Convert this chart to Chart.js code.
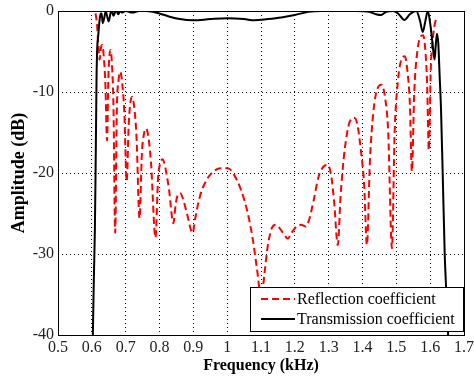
<!DOCTYPE html>
<html><head><meta charset="utf-8">
<script src="https://cdn.jsdelivr.net/npm/chart.js@4/dist/chart.umd.min.js"></script>
<style>html,body{margin:0;padding:0;background:#fff;}#wrap{width:474px;height:377px;}</style>
</head><body><div id="wrap"><canvas id="c" width="474" height="377"></canvas></div>
<script>
const reflFreq = [0.611,0.615,0.619,0.623,0.627,0.631,0.635,0.640,0.645,0.649,0.655,0.660,0.664,0.669,0.674,0.679,0.684,0.690,0.696,0.703,0.709,0.714,0.719,0.725,0.732,0.741,0.748,0.754,0.760,0.767,0.775,0.788,0.796,0.802,0.809,0.817,0.828,0.841,0.848,0.854,0.861,0.868,0.880,0.898,0.906,0.920,0.940,0.960,0.980,1.002,1.020,1.040,1.060,1.075,1.088,1.101,1.110,1.120,1.132,1.143,1.155,1.168,1.179,1.190,1.205,1.219,1.232,1.242,1.255,1.270,1.285,1.298,1.308,1.316,1.327,1.335,1.345,1.358,1.368,1.377,1.386,1.396,1.405,1.413,1.422,1.432,1.444,1.456,1.466,1.476,1.487,1.495,1.505,1.515,1.525,1.533,1.540,1.546,1.553,1.562,1.571,1.579,1.586,1.591,1.596,1.602,1.609,1.616,1.623];
const reflDb = [-0.3,-1.5,-4,-6,-4.5,-4.2,-5.5,-9,-16,-8,-4.8,-7,-12,-27.4,-12,-8.5,-7.5,-9,-12.5,-21,-14,-11.3,-10.6,-11.8,-15.5,-25.6,-17.5,-15.2,-14.5,-15.5,-18.8,-28,-20.5,-18.8,-18.3,-19.3,-22,-26.2,-23.8,-22.7,-22.5,-23.0,-24.8,-27.4,-25.5,-22.8,-20.8,-19.8,-19.4,-19.4,-20.2,-22,-24.8,-28,-31.8,-35.5,-32.5,-29.0,-26.8,-26.4,-26.8,-27.6,-28.1,-27.4,-26.6,-26.4,-26.6,-25.8,-23.5,-20.5,-19.2,-19,-20.5,-23.5,-28.9,-23,-18,-14.3,-13.3,-13.2,-14.3,-17.5,-21.5,-28.9,-18.5,-12.5,-9.6,-9.1,-10.5,-15,-29.3,-15,-8.5,-6,-5.6,-7.5,-11.5,-19.8,-10,-5,-3.2,-3,-5,-9,-17.2,-7,-3,-1.2,-0.7];
const transFreq = [0.603,0.606,0.609,0.611,0.6125,0.614,0.616,0.619,0.622,0.626,0.629,0.632,0.637,0.641,0.646,0.650,0.655,0.659,0.664,0.668,0.673,0.678,0.684,0.690,0.700,0.720,0.740,0.760,0.780,0.800,0.830,0.860,0.900,0.950,1.000,1.050,1.080,1.120,1.160,1.200,1.240,1.280,1.330,1.380,1.420,1.440,1.455,1.470,1.490,1.505,1.524,1.540,1.559,1.570,1.578,1.586,1.593,1.600,1.607,1.613,1.616,1.620,1.624,1.628,1.632,1.637,1.643,1.648,1.653];
const transDb = [-40,-33,-27,-20,-14,-8,-4.5,-3,-1.5,-0.3,-0.3,-1.5,-0.8,0,-0.8,-1.3,-0.3,0,-0.6,-0.2,0,-0.4,0,-0.2,0,-0.2,0,0,-0.1,-0.3,-0.7,-1.0,-1.15,-1.0,-0.9,-1.0,-1.15,-1.0,-0.8,-0.5,-0.1,0,0,0,-0.1,-0.4,-0.5,-0.1,0,-0.3,-1.1,-0.4,0,-1.2,-2.6,-1.2,0,-1.5,-4,-6,-4.5,-2.8,-4,-8,-12,-20,-30,-35,-40];
const xTicks = [0.5,0.6,0.7,0.8,0.9,1.0,1.1,1.2,1.3,1.4,1.5,1.6,1.7];
const yTicks = [-40,-30,-20,-10,0];
const seriesLabels = ['Reflection coefficient','Transmission coefficient'];
const xTitle = 'Frequency (kHz)';
const yTitle = 'Amplitude (dB)';

const SERIF = "'Liberation Serif','Times New Roman',serif";
const toPts = (xs, ys) => xs.map((x, i) => ({x: x, y: ys[i]}));

const frameAndLegend = {
  id: 'frameAndLegend',
  afterDraw(chart) {
    const ctx = chart.ctx, a = chart.chartArea;
    ctx.save();
    ctx.strokeStyle = '#000'; ctx.lineWidth = 1; ctx.setLineDash([]);
    ctx.strokeRect(Math.round(a.left) + 0.5, Math.round(a.top) + 0.5, Math.round(a.right - a.left), Math.round(a.bottom - a.top));
    // legend
    const w = 213, h = 44;
    const x = Math.round(a.right) - w - 1, y = Math.round(a.bottom) - h - 4;
    ctx.fillStyle = '#fff'; ctx.fillRect(x, y, w, h);
    ctx.strokeStyle = '#000'; ctx.strokeRect(x + 0.5, y + 0.5, w, h);
    const styles = [{c: '#ff0000', d: [7, 4]}, {c: '#000', d: []}];
    ctx.font = "16px " + SERIF; ctx.textBaseline = 'middle'; ctx.fillStyle = '#000';
    seriesLabels.forEach((lab, i) => {
      const ly = y + 12 + i * 20;
      ctx.beginPath(); ctx.strokeStyle = styles[i].c; ctx.lineWidth = 2; ctx.setLineDash(styles[i].d);
      ctx.moveTo(x + 11, ly); ctx.lineTo(x + 45, ly); ctx.stroke();
      ctx.setLineDash([]);
      ctx.fillStyle = '#000'; ctx.fillText(lab, x + 47, ly + 1);
    });
    ctx.restore();
  }
};

new Chart(document.getElementById('c'), {
  type: 'line',
  data: {
    datasets: [
      {label: seriesLabels[1], data: toPts(transFreq, transDb), borderColor: '#000', borderWidth: 2, pointRadius: 0, cubicInterpolationMode: 'monotone', fill: false},
      {label: seriesLabels[0], data: toPts(reflFreq, reflDb), borderColor: '#ff0000', borderWidth: 2, borderDash: [7, 4], pointRadius: 0, cubicInterpolationMode: 'monotone', fill: false}
    ]
  },
  options: {
    responsive: false, animation: false, devicePixelRatio: 1,
    layout: {padding: {top: 11, right: 10, bottom: 0, left: 0}},
    plugins: {legend: {display: false}, tooltip: {enabled: false}},
    scales: {
      x: {
        type: 'linear', min: 0.5, max: 1.7,
        afterBuildTicks: s => { s.ticks = xTicks.map(v => ({value: v})); },
        afterFit: s => { s.height = 42; s.paddingLeft = 0; s.paddingRight = 0; },
        ticks: {callback: v => String(+(+v).toFixed(1)), color: '#222', font: {family: SERIF, size: 16}, padding: 3, maxRotation: 0, autoSkip: false},
        grid: {color: '#000', lineWidth: 1, drawTicks: false},
        border: {display: false, dash: [1, 3]},
        title: {display: true, text: xTitle, color: '#000', font: {family: SERIF, size: 16, weight: 'bold'}, padding: {top: 0, bottom: 2}}
      },
      y: {
        type: 'linear', min: -40, max: 0,
        afterBuildTicks: s => { s.ticks = yTicks.map(v => ({value: v})); },
        afterFit: s => { s.width = 58; s.paddingTop = 0; s.paddingBottom = 0; },
        ticks: {color: '#222', font: {family: SERIF, size: 16}, padding: 4},
        grid: {color: '#000', lineWidth: 1, drawTicks: false},
        border: {display: false, dash: [1, 3]},
        title: {display: true, text: yTitle, color: '#000', font: {family: SERIF, size: 18, weight: 'bold'}, padding: {top: 9, bottom: 0}}
      }
    }
  },
  plugins: [frameAndLegend]
});
</script></body></html>
